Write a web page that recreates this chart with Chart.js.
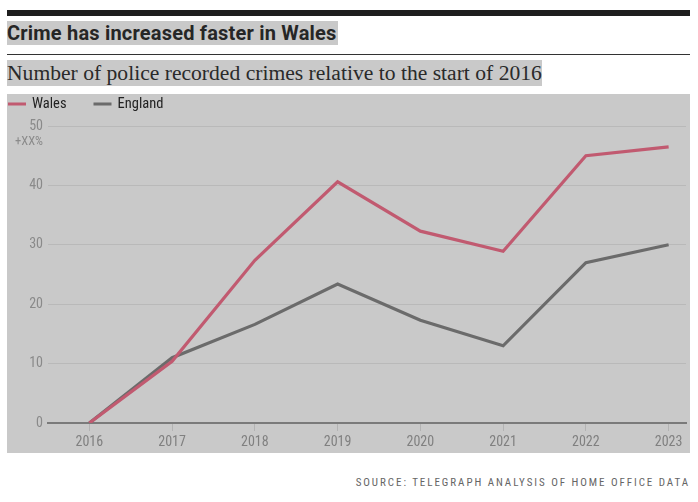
<!DOCTYPE html>
<html><head><meta charset="utf-8">
<script src="https://cdn.jsdelivr.net/npm/chart.js@4"></script>
<style>
html,body{margin:0;padding:0;background:#fff;width:698px;height:502px;overflow:hidden;}
#bar{position:absolute;left:7px;top:10px;width:683px;height:6px;background:#1e1e1e;}
#title{position:absolute;left:7px;top:21px;font:bold 20px Roboto,"Liberation Sans",sans-serif;letter-spacing:0.2px;color:#262626;background:#c9c9c9;line-height:24px;padding:0 1px 0 0;}
#rule{position:absolute;left:7px;top:54px;width:683px;height:1px;background:#333;}
#sub{position:absolute;left:7px;top:60px;font:21.6px "Liberation Serif",serif;color:#2a2a2a;background:#c9c9c9;line-height:26px;}
#panel{position:absolute;left:7px;top:94px;width:683px;height:359px;background:#c9c9c9;}
#src{position:absolute;right:8px;top:476px;font:11px "Liberation Sans Narrow","Roboto Condensed",sans-serif;letter-spacing:1.95px;color:#666;}
</style></head>
<body>
<div id="bar"></div>
<div id="title">Crime has increased faster in Wales</div>
<div id="rule"></div>
<div id="sub">Number of police recorded crimes relative to the start of 2016</div>
<div id="panel"><canvas id="c" width="683" height="359"></canvas></div>
<div id="src">SOURCE: TELEGRAPH ANALYSIS OF HOME OFFICE DATA</div>
<script>
const years = [2016, 2017, 2018, 2019, 2020, 2021, 2022, 2023];
const wales = [0, 10.4, 27.4, 40.6, 32.3, 28.9, 45.0, 46.5];
const england = [0, 11.0, 16.6, 23.4, 17.3, 13.0, 27.0, 30.0];
const yTicks = [0, 10, 20, 30, 40, 50];
const seriesNames = ['Wales', 'England'];
const narrow = '"Liberation Sans Narrow","Roboto Condensed",sans-serif';

const extras = {
  id: 'extras',
  afterDraw(chart) {
    const y = chart.scales.y;
    const ctx = chart.ctx;
    ctx.save();
    // unit label under top tick
    ctx.font = '12.5px ' + narrow;
    ctx.fillStyle = '#8a8a8a';
    ctx.textAlign = 'right';
    ctx.textBaseline = 'middle';
    ctx.fillText('+XX%', chart.chartArea.left - 5, y.getPixelForValue(50) + 16);
    // legend
    ctx.font = '14.5px ' + narrow;
    ctx.textAlign = 'left';
    let x = 1;
    const ly = 10;
    chart.data.datasets.forEach(ds => {
      ctx.fillStyle = ds.borderColor;
      ctx.fillRect(x, ly - 1.5, 18, 3);
      ctx.fillStyle = '#222';
      ctx.fillText(ds.label, x + 24, ly);
      x += 24 + ctx.measureText(ds.label).width + 27;
    });
    ctx.restore();
  }
};

new Chart(document.getElementById('c'), {
  type: 'line',
  data: {
    datasets: [
      { label: seriesNames[0], data: years.map((x, i) => ({x, y: wales[i]})), borderColor: '#c15a70', backgroundColor: '#c15a70', borderWidth: 3.2, pointRadius: 0, tension: 0 },
      { label: seriesNames[1], data: years.map((x, i) => ({x, y: england[i]})), borderColor: '#6b6b6b', backgroundColor: '#6b6b6b', borderWidth: 3.2, pointRadius: 0, tension: 0 }
    ]
  },
  options: {
    responsive: false,
    animation: false,
    layout: { padding: { left: 0, right: 4, top: 32, bottom: 0 } },
    plugins: {
      tooltip: { enabled: false },
      legend: { display: false }
    },
    scales: {
      x: {
        type: 'linear', min: 2015.5, max: 2023.21,
        afterBuildTicks: s => { s.ticks = years.map(v => ({ value: v })); },
        afterFit: s => { s.height = 30; },
        ticks: { color: '#808080', font: { family: narrow, size: 14 }, padding: 3, maxRotation: 0, callback: v => String(v) },
        grid: { drawOnChartArea: false, drawTicks: true, tickLength: 8, color: '#b3b3b3' },
        border: { display: true, color: '#7a7a7a', width: 2 }
      },
      y: {
        min: 0, max: 50,
        afterBuildTicks: s => { s.ticks = yTicks.map(v => ({ value: v })); },
        afterFit: s => { s.width = 41; },
        ticks: { color: '#8a8a8a', font: { family: narrow, size: 14 }, padding: 5 },
        grid: { color: ctx => ctx.tick && ctx.tick.value === 0 ? '#7a7a7a' : '#b9b9b9', lineWidth: 1, drawTicks: false },
        border: { display: false }
      }
    }
  },
  plugins: [extras]
});
</script>
</body></html>
